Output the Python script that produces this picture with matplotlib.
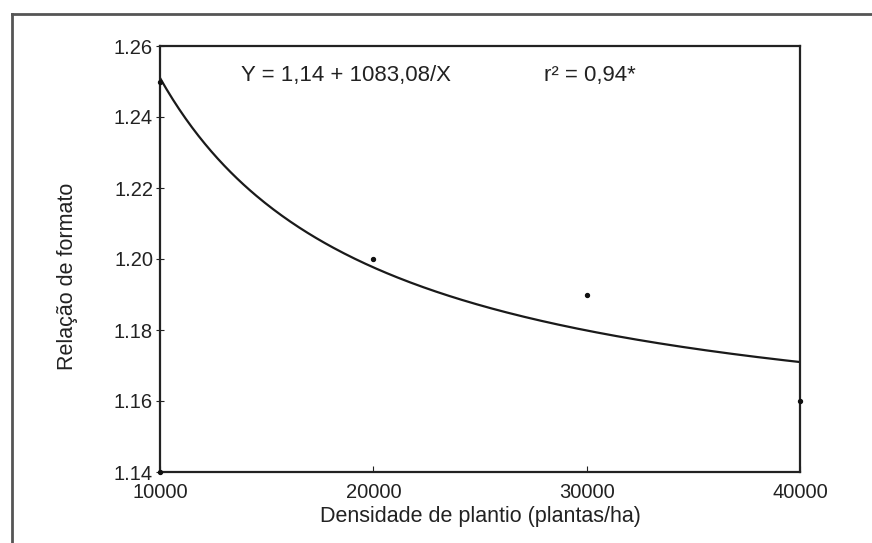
import numpy as np
import matplotlib.pyplot as plt
from matplotlib.lines import Line2D

# Dados observados
densidade = [10000, 20000, 30000, 40000, 10000]
relacao = [1.25, 1.20, 1.19, 1.16, 1.14]

# Curva ajustada
a = 1.1443
b = 1067.0

x_ticks = [10000, 20000, 30000, 40000]
y_ticks = [1.14, 1.16, 1.18, 1.20, 1.22, 1.24, 1.26]

plt.rcParams['font.family'] = ['Liberation Sans', 'DejaVu Sans']

fig = plt.figure(figsize=(8.72, 5.43), dpi=100)
ax = fig.add_axes([160 / 872, 1 - 472 / 543, 640 / 872, 426 / 543])

x = np.linspace(10000, 40000, 300)
y = a + b / x
ax.plot(x, y, color='#1a1a1a', lw=1.6)
ax.scatter(densidade, relacao, s=8, color='#111111', zorder=3, clip_on=False)

ax.set_xlim(10000, 40000)
ax.set_ylim(1.14, 1.26)
ax.set_xticks(x_ticks)
ax.set_yticks(y_ticks)
ax.set_xticklabels([str(v) for v in x_ticks])
ax.set_yticklabels(['%.2f' % v for v in y_ticks])
ax.tick_params(axis='x', direction='in', length=4, pad=8, labelsize=14.5, colors='#222222')
ax.tick_params(axis='y', direction='inout', length=6, pad=2, labelsize=14.5, colors='#222222')
for s in ax.spines.values():
    s.set_linewidth(1.6)
    s.set_color('#222222')

ax.set_xlabel('Densidade de plantio (plantas/ha)', fontsize=15.5, color='#222222', labelpad=3)
ax.set_ylabel('Relação de formato', fontsize=15.5, color='#222222')
ax.yaxis.set_label_coords(-0.128, 0.46)

ax.text(0.127, 0.93, 'Y = 1,14 + 1083,08/X', transform=ax.transAxes,
        fontsize=16, color='#222222', va='center')
ax.text(0.60, 0.93, 'r² = 0,94*', transform=ax.transAxes,
        fontsize=16, color='#222222', va='center')

# Moldura externa (topo e esquerda)
fig.add_artist(Line2D([12 / 872, 1.0], [1 - 14 / 543, 1 - 14 / 543],
                      transform=fig.transFigure, color='#555555', lw=2))
fig.add_artist(Line2D([12 / 872, 12 / 872], [0.0, 1 - 14 / 543],
                      transform=fig.transFigure, color='#555555', lw=2))

fig.savefig('out.png', dpi=100)
